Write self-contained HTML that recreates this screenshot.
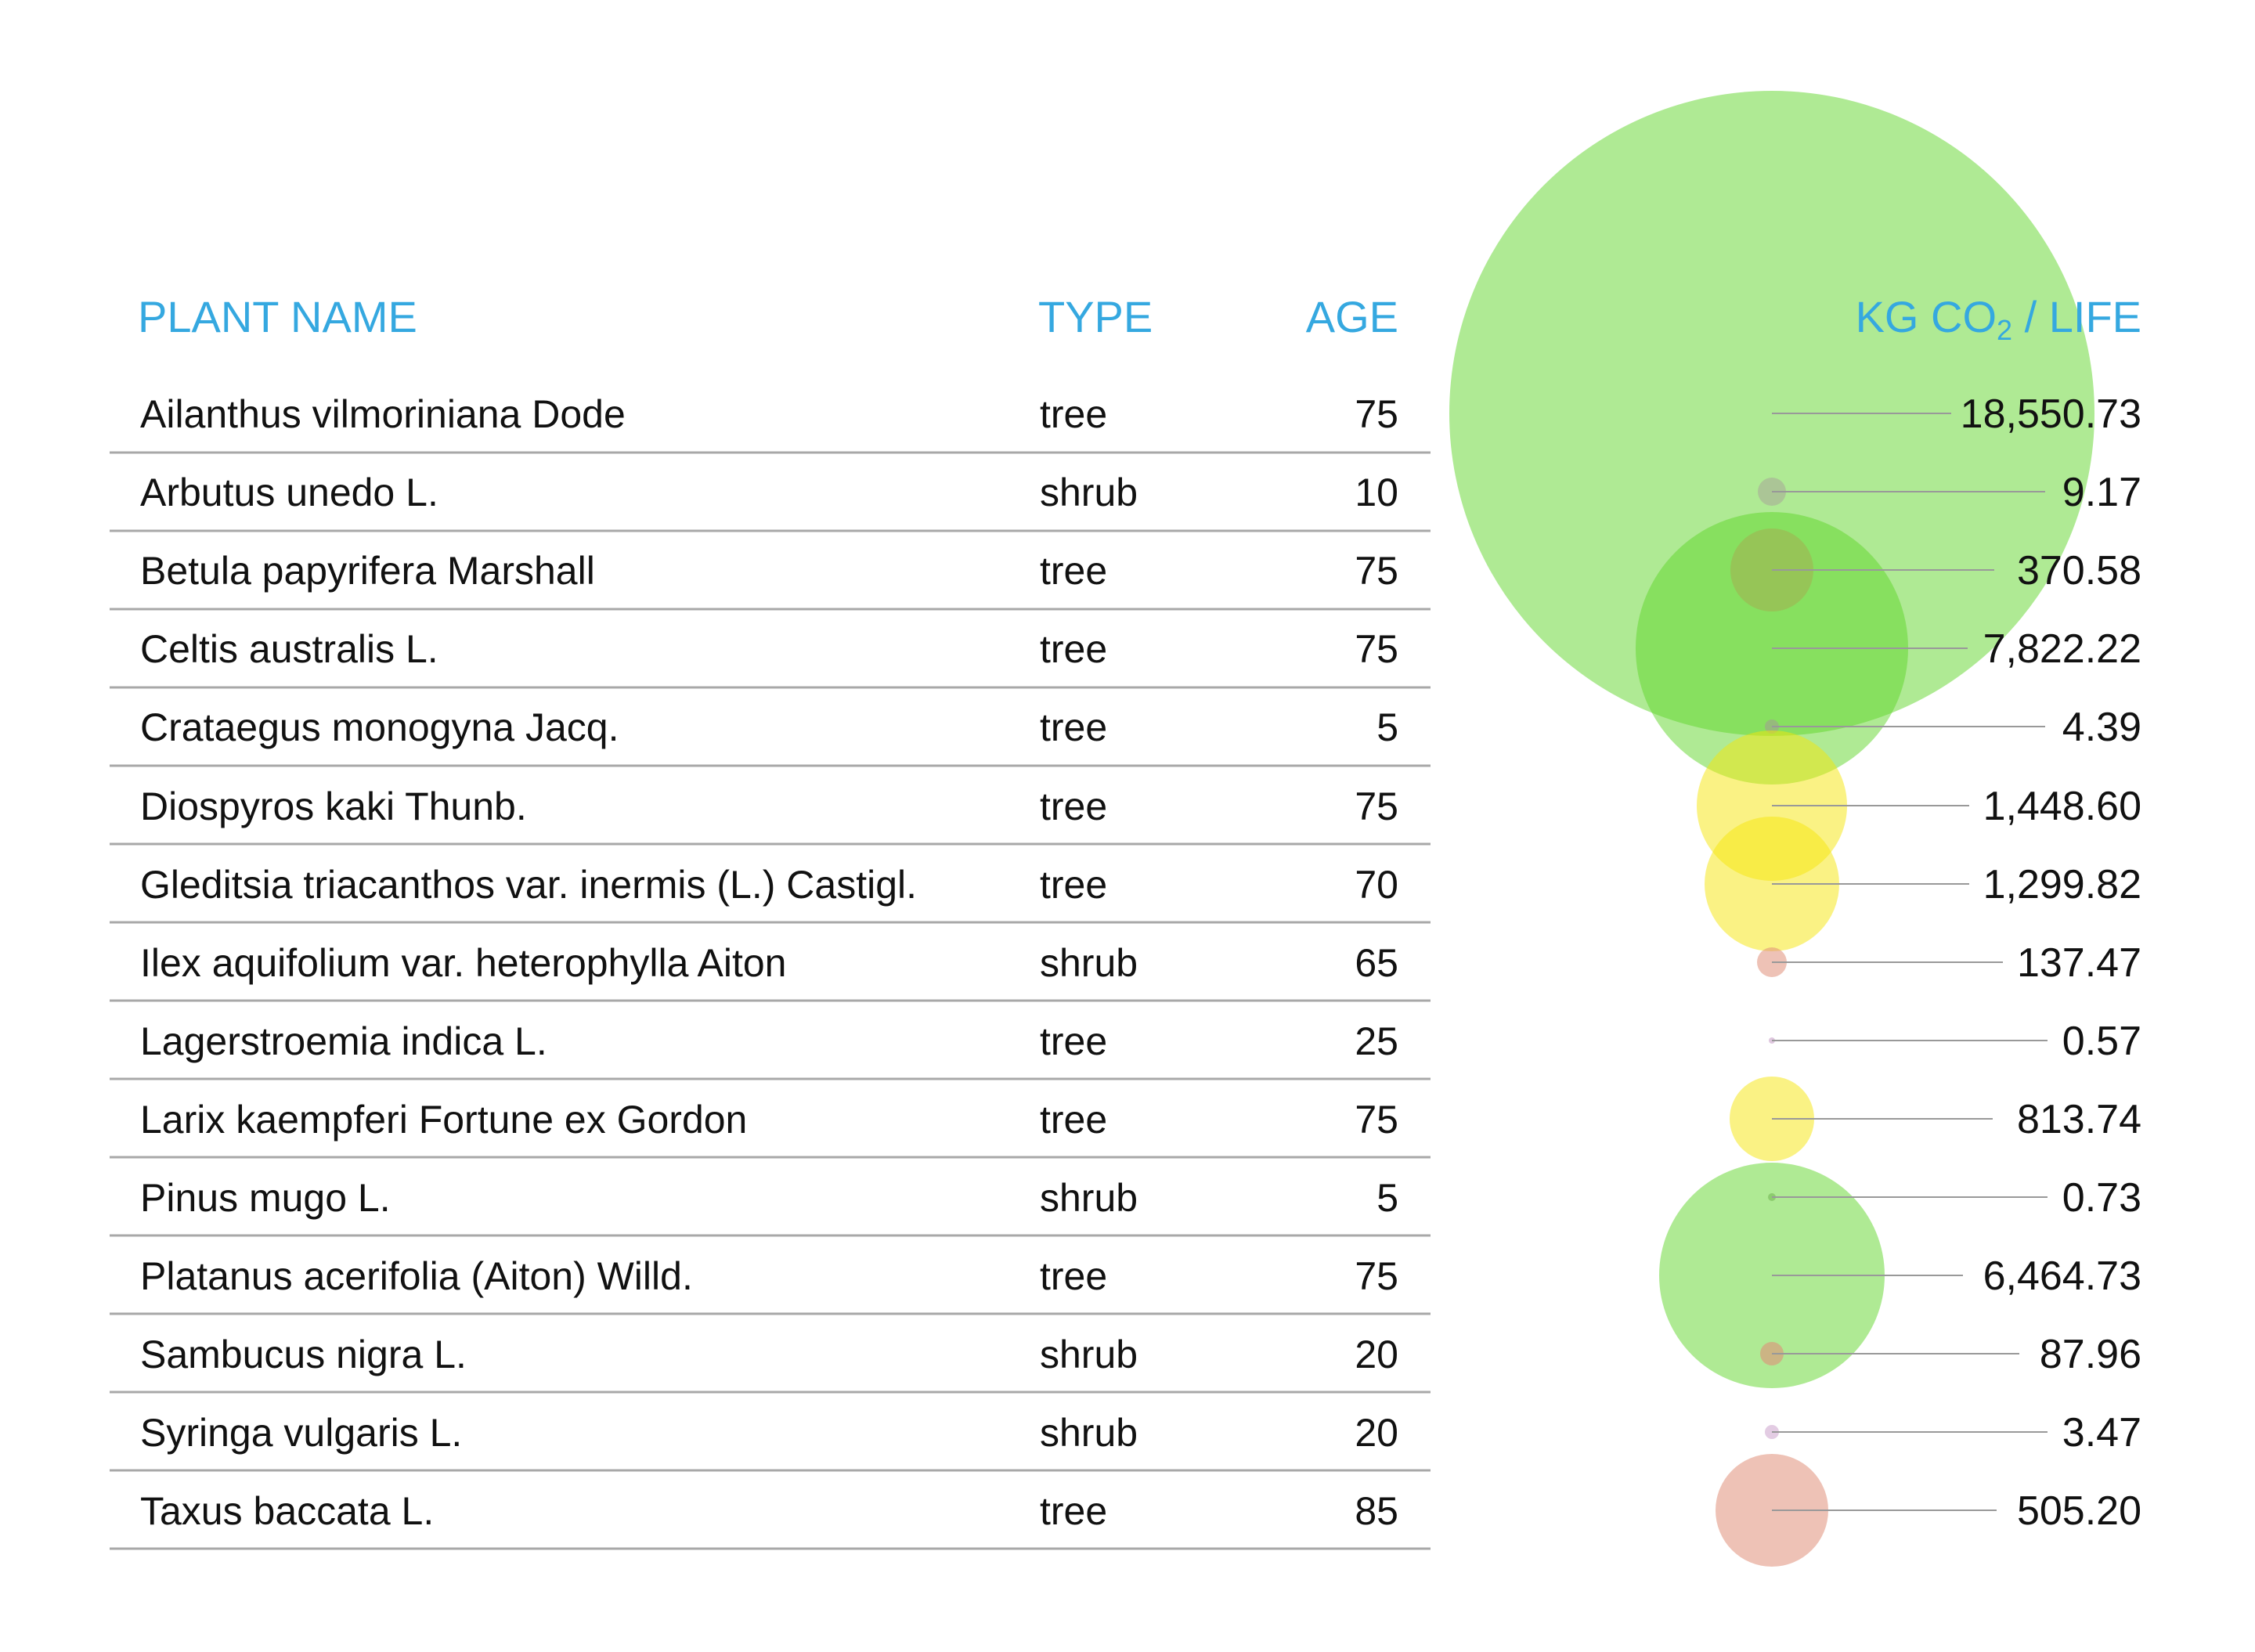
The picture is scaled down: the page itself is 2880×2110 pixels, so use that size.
<!DOCTYPE html>
<html><head><meta charset="utf-8"><style>
html,body{margin:0;padding:0;background:#fff;}
svg{display:block;}
.n{font-family:"Liberation Sans",sans-serif;font-size:50px;fill:#111;}
.v{font-family:"Liberation Sans",sans-serif;font-size:52px;fill:#111;}
.h{font-family:"Liberation Sans",sans-serif;font-size:56px;fill:#35a8e0;}
</style></head><body>
<svg width="2880" height="2110" viewBox="0 0 2880 2110" xmlns="http://www.w3.org/2000/svg">
<g>
<circle cx="2263" cy="528" r="412" fill="#5fd62a" fill-opacity="0.5"/>
<circle cx="2263" cy="628" r="18" fill="#a8ac98" fill-opacity="0.6"/>
<circle cx="2263" cy="728" r="53" fill="#e0907a" fill-opacity="0.6"/>
<circle cx="2263" cy="828" r="174" fill="#5fd62a" fill-opacity="0.5"/>
<circle cx="2263" cy="928" r="9" fill="#a0a090" fill-opacity="0.6"/>
<circle cx="2263" cy="1029" r="96" fill="#f5e60a" fill-opacity="0.5"/>
<circle cx="2263" cy="1129" r="86" fill="#f5e60a" fill-opacity="0.5"/>
<circle cx="2263" cy="1229" r="19" fill="#e0907a" fill-opacity="0.55"/>
<circle cx="2263" cy="1329" r="4" fill="#c08fc0" fill-opacity="0.5"/>
<circle cx="2263" cy="1429" r="54" fill="#f5e60a" fill-opacity="0.5"/>
<circle cx="2263" cy="1529" r="5" fill="#8a9a80" fill-opacity="0.6"/>
<circle cx="2263" cy="1629" r="144" fill="#5fd62a" fill-opacity="0.5"/>
<circle cx="2263" cy="1729" r="15" fill="#e0907a" fill-opacity="0.6"/>
<circle cx="2263" cy="1829" r="9" fill="#c08fc0" fill-opacity="0.45"/>
<circle cx="2263" cy="1929" r="72" fill="#e0907a" fill-opacity="0.55"/>
</g>
<g stroke="#999" stroke-width="2">
<line x1="2263" y1="528" x2="2492" y2="528"/>
<line x1="2263" y1="628" x2="2612" y2="628"/>
<line x1="2263" y1="728" x2="2547" y2="728"/>
<line x1="2263" y1="828" x2="2513" y2="828"/>
<line x1="2263" y1="928" x2="2612" y2="928"/>
<line x1="2263" y1="1029" x2="2515" y2="1029"/>
<line x1="2263" y1="1129" x2="2515" y2="1129"/>
<line x1="2263" y1="1229" x2="2558" y2="1229"/>
<line x1="2263" y1="1329" x2="2615" y2="1329"/>
<line x1="2263" y1="1429" x2="2545" y2="1429"/>
<line x1="2263" y1="1529" x2="2615" y2="1529"/>
<line x1="2263" y1="1629" x2="2507" y2="1629"/>
<line x1="2263" y1="1729" x2="2579" y2="1729"/>
<line x1="2263" y1="1829" x2="2615" y2="1829"/>
<line x1="2263" y1="1929" x2="2550" y2="1929"/>
</g>
<g stroke="#a8a8a8" stroke-width="3">
<line x1="140" y1="578" x2="1827" y2="578"/>
<line x1="140" y1="678" x2="1827" y2="678"/>
<line x1="140" y1="778" x2="1827" y2="778"/>
<line x1="140" y1="878" x2="1827" y2="878"/>
<line x1="140" y1="978" x2="1827" y2="978"/>
<line x1="140" y1="1078" x2="1827" y2="1078"/>
<line x1="140" y1="1178" x2="1827" y2="1178"/>
<line x1="140" y1="1278" x2="1827" y2="1278"/>
<line x1="140" y1="1378" x2="1827" y2="1378"/>
<line x1="140" y1="1478" x2="1827" y2="1478"/>
<line x1="140" y1="1578" x2="1827" y2="1578"/>
<line x1="140" y1="1678" x2="1827" y2="1678"/>
<line x1="140" y1="1778" x2="1827" y2="1778"/>
<line x1="140" y1="1878" x2="1827" y2="1878"/>
<line x1="140" y1="1978" x2="1827" y2="1978"/>
</g>
<text class="h" x="176" y="424">PLANT NAME</text>
<text class="h" x="1326" y="424">TYPE</text>
<text class="h" x="1786" y="424" text-anchor="end">AGE</text>
<text class="h" x="2735" y="424" text-anchor="end">KG CO<tspan font-size="36" dy="10">2</tspan><tspan dy="-10"> / LIFE</tspan></text>
<g class="n">
<text x="179" y="546">Ailanthus vilmoriniana Dode</text>
<text x="179" y="646">Arbutus unedo L.</text>
<text x="179" y="746">Betula papyrifera Marshall</text>
<text x="179" y="846">Celtis australis L.</text>
<text x="179" y="946">Crataegus monogyna Jacq.</text>
<text x="179" y="1047">Diospyros kaki Thunb.</text>
<text x="179" y="1147">Gleditsia triacanthos var. inermis (L.) Castigl.</text>
<text x="179" y="1247">Ilex aquifolium var. heterophylla Aiton</text>
<text x="179" y="1347">Lagerstroemia indica L.</text>
<text x="179" y="1447">Larix kaempferi Fortune ex Gordon</text>
<text x="179" y="1547">Pinus mugo L.</text>
<text x="179" y="1647">Platanus acerifolia (Aiton) Willd.</text>
<text x="179" y="1747">Sambucus nigra L.</text>
<text x="179" y="1847">Syringa vulgaris L.</text>
<text x="179" y="1947">Taxus baccata L.</text>
</g>
<g class="n">
<text x="1328" y="546">tree</text>
<text x="1328" y="646">shrub</text>
<text x="1328" y="746">tree</text>
<text x="1328" y="846">tree</text>
<text x="1328" y="946">tree</text>
<text x="1328" y="1047">tree</text>
<text x="1328" y="1147">tree</text>
<text x="1328" y="1247">shrub</text>
<text x="1328" y="1347">tree</text>
<text x="1328" y="1447">tree</text>
<text x="1328" y="1547">shrub</text>
<text x="1328" y="1647">tree</text>
<text x="1328" y="1747">shrub</text>
<text x="1328" y="1847">shrub</text>
<text x="1328" y="1947">tree</text>
</g>
<g class="n" text-anchor="end">
<text x="1786" y="546">75</text>
<text x="1786" y="646">10</text>
<text x="1786" y="746">75</text>
<text x="1786" y="846">75</text>
<text x="1786" y="946">5</text>
<text x="1786" y="1047">75</text>
<text x="1786" y="1147">70</text>
<text x="1786" y="1247">65</text>
<text x="1786" y="1347">25</text>
<text x="1786" y="1447">75</text>
<text x="1786" y="1547">5</text>
<text x="1786" y="1647">75</text>
<text x="1786" y="1747">20</text>
<text x="1786" y="1847">20</text>
<text x="1786" y="1947">85</text>
</g>
<g class="v" text-anchor="end">
<text x="2735" y="546">18,550.73</text>
<text x="2735" y="646">9.17</text>
<text x="2735" y="746">370.58</text>
<text x="2735" y="846">7,822.22</text>
<text x="2735" y="946">4.39</text>
<text x="2735" y="1047">1,448.60</text>
<text x="2735" y="1147">1,299.82</text>
<text x="2735" y="1247">137.47</text>
<text x="2735" y="1347">0.57</text>
<text x="2735" y="1447">813.74</text>
<text x="2735" y="1547">0.73</text>
<text x="2735" y="1647">6,464.73</text>
<text x="2735" y="1747">87.96</text>
<text x="2735" y="1847">3.47</text>
<text x="2735" y="1947">505.20</text>
</g>
</svg>
</body></html>
